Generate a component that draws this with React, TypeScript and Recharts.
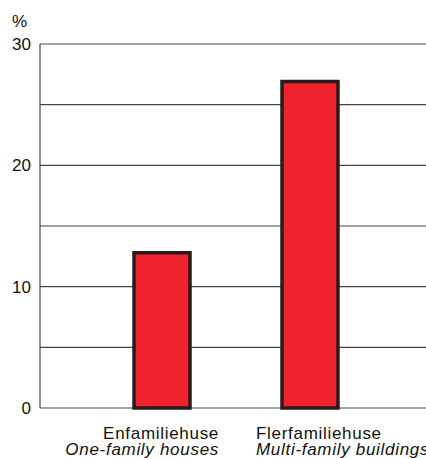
import React from "react";
import { BarChart, Bar, XAxis, YAxis, CartesianGrid } from "recharts";

const categories = ["Enfamiliehuse", "Flerfamiliehuse"];
const categoriesEn = ["One-family houses", "Multi-family buildings"];
const shares = [12.8, 26.9];
const yTicks = [0, 5, 10, 15, 20, 25, 30];
const yLabelTicks = [0, 10, 20, 30];
const unitLabel = "%";

const data = categories.map((c, i) => ({ name: c, en: categoriesEn[i], value: shares[i] }));

const FONT = "'Liberation Sans', Arial, Helvetica, sans-serif";

const CatTick = (props: any) => {
  const { x, y, index } = props;
  const d = data[index];
  const anchor = index === 0 ? "end" : "start";
  const tx = index === 0 ? x + 57 : x - 54;
  return (
    <g>
      <text x={tx} y={y + 31} textAnchor={anchor} fontFamily={FONT} fontSize={17} letterSpacing={0.7} fill="#111">
        {d.name}
      </text>
      <text x={tx} y={y + 47} textAnchor={anchor} fontFamily={FONT} fontSize={17} letterSpacing={0.7} fontStyle="italic" fill="#111">
        {d.en}
      </text>
    </g>
  );
};

export default function App() {
  return (
    <div style={{ position: "absolute", left: 0, top: 0, width: 426, height: 458, overflow: "hidden", background: "#fff" }}>
      <div style={{ position: "absolute", left: 12, top: 12, fontFamily: FONT, fontSize: 17, color: "#111" }}>{unitLabel}</div>
      <BarChart width={460} height={458} data={data} margin={{ top: 44, right: 0, bottom: 0, left: 0 }}>
        <CartesianGrid vertical={false} stroke="#444" strokeWidth={1.2} />
        <XAxis
          dataKey="name"
          axisLine={false}
          tickLine={false}
          tickSize={0}
          tickMargin={0}
          height={50}
          padding={{ left: 48, right: 76 }}
          tick={<CatTick />}
          interval={0}
        />
        <YAxis
          domain={[0, 30]}
          ticks={yTicks}
          width={40}
          axisLine={{ stroke: "#444", strokeWidth: 1.2 }}
          tickLine={false}
          tickSize={0}
          tickMargin={9}
          tickFormatter={(v: number) => (yLabelTicks.includes(v) ? String(v) : "")}
          tick={{ fontFamily: FONT, fontSize: 17, fill: "#111" }}
        />
        <Bar dataKey="value" barSize={56} fill="#f0222e" stroke="#2a1a1a" strokeWidth={3.5} isAnimationActive={false} />
      </BarChart>
    </div>
  );
}
